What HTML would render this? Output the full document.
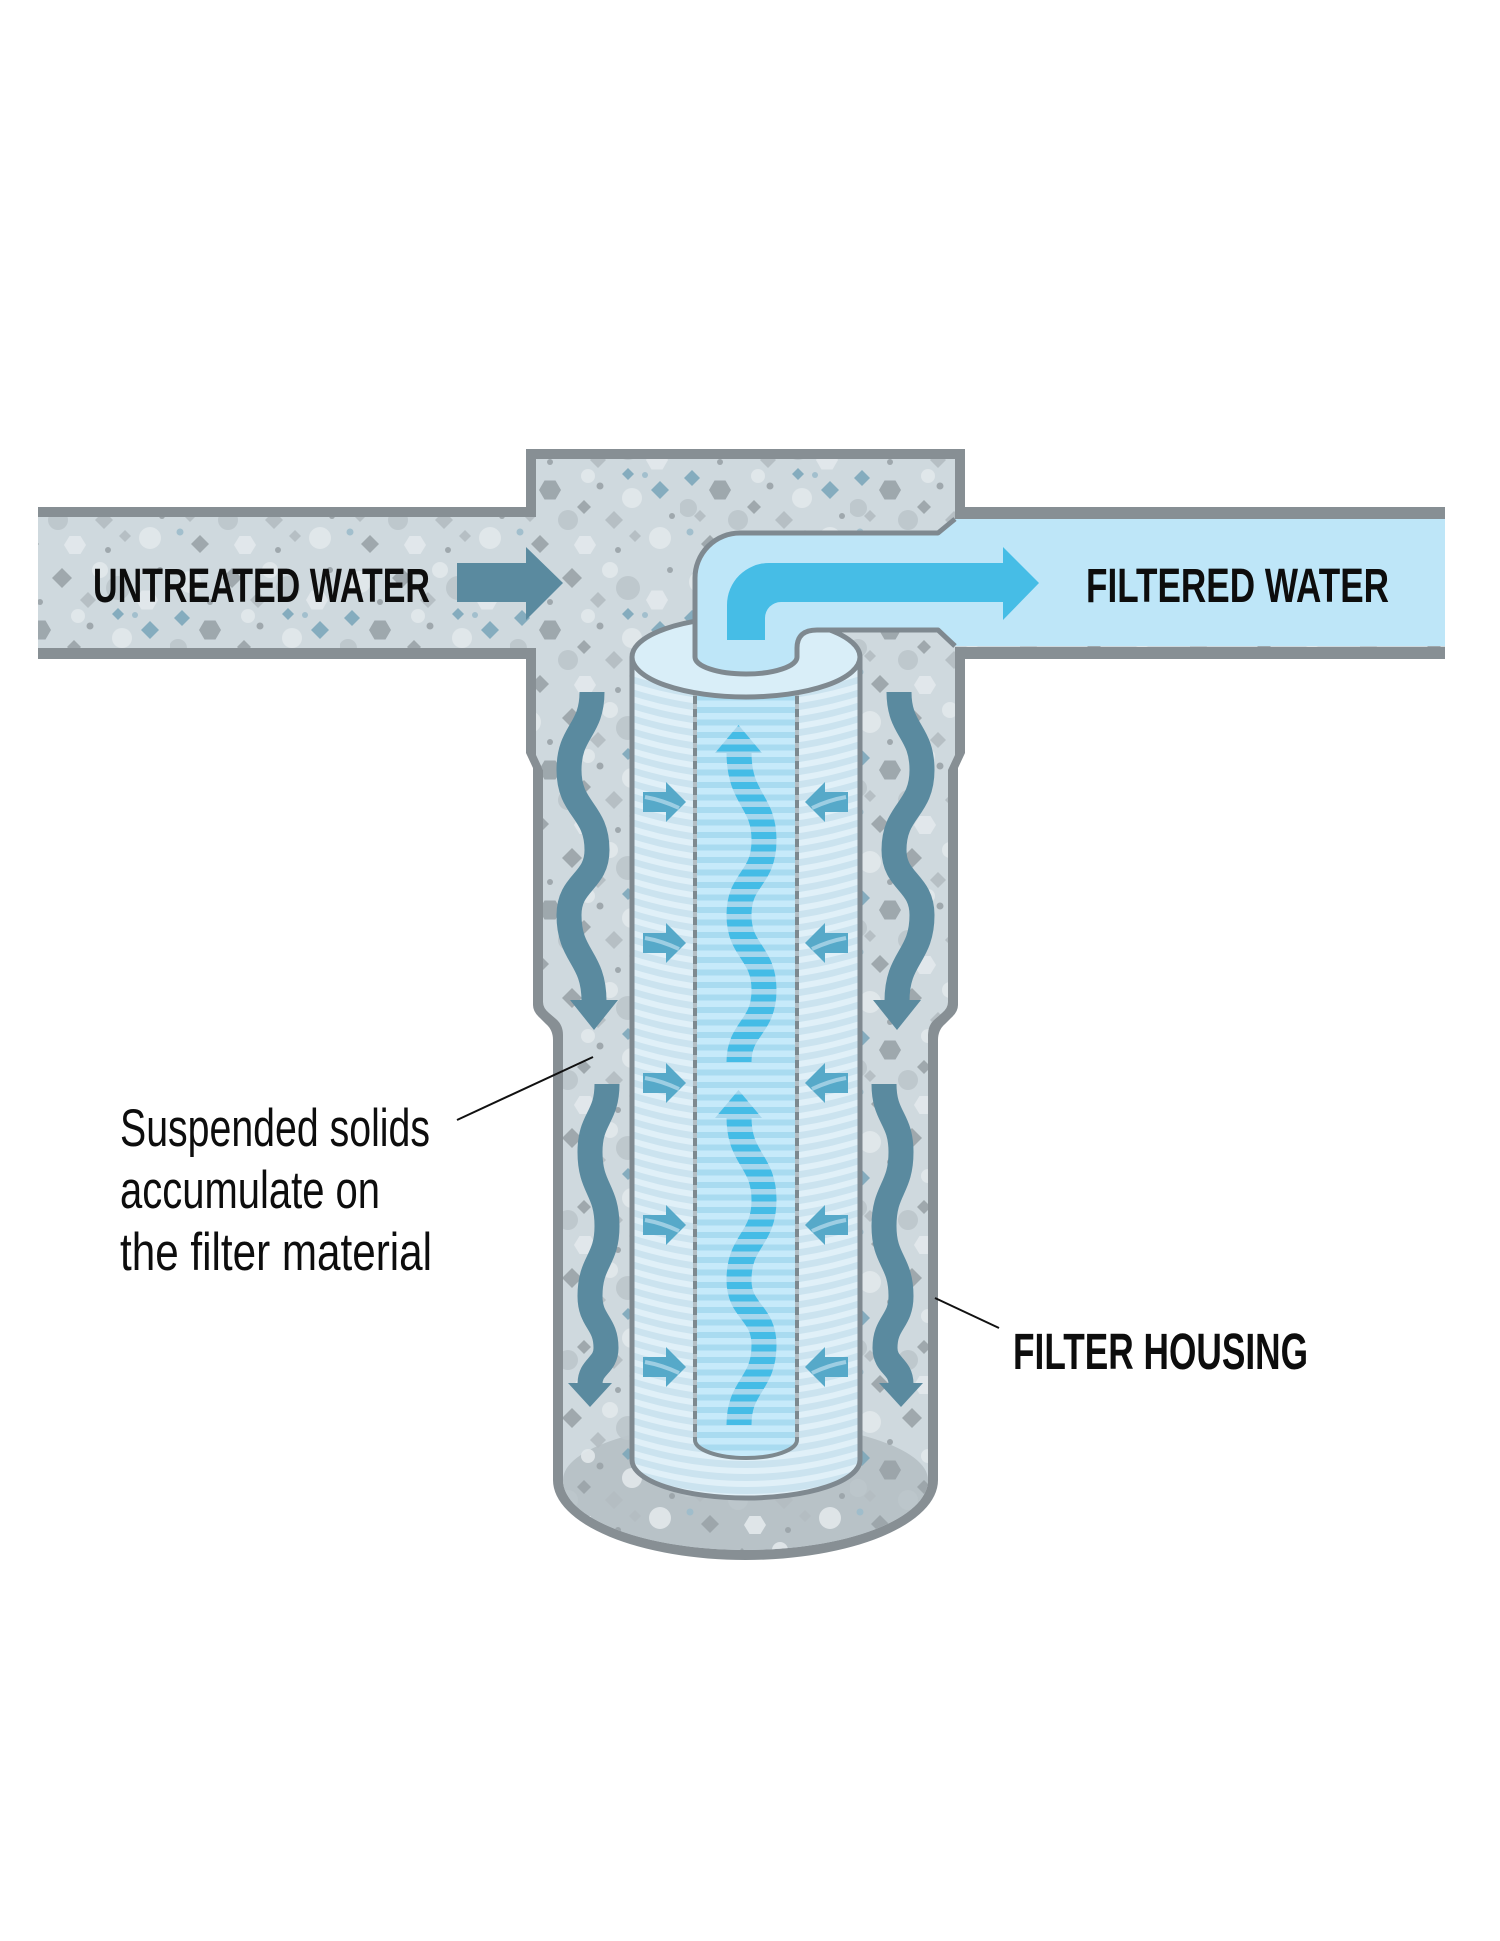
<!DOCTYPE html>
<html>
<head>
<meta charset="utf-8">
<style>
  html, body { margin: 0; padding: 0; background: #ffffff; }
  svg { display: block; }
  .lbl { font-family: "Liberation Sans", "DejaVu Sans", sans-serif; font-weight: bold; fill: #0d0d0d; }
  .ann { font-family: "Liberation Sans", "DejaVu Sans", sans-serif; font-weight: normal; fill: #0d0d0d; }
</style>
</head>
<body>
<svg width="1500" height="1941" viewBox="0 0 1500 1941" xmlns="http://www.w3.org/2000/svg">
  <defs>
    <!-- speckle texture -->
    <pattern id="speck" patternUnits="userSpaceOnUse" x="0" y="0" width="170" height="140">
      <circle cx="20" cy="22" r="11" fill="#e2e8eb"/>
      <circle cx="118" cy="28" r="12" fill="#bcc6cb"/>
      <polygon points="62,8 72,18 62,28 52,18" fill="#9aa3a8"/>
      <polygon points="150,61 159,70 150,79 141,70" fill="#7da7ba"/>
      <polygon points="51,70 45.5,79.5 34.5,79.5 29,70 34.5,60.5 45.5,60.5" fill="#99a2a7"/>
      <circle cx="90" cy="66" r="3.5" fill="#9aa3a8"/>
      <polygon points="104,91 113,100 104,109 95,100" fill="#b3bcc1"/>
      <circle cx="150" cy="118" r="11" fill="#e2e8eb"/>
      <polygon points="86,125 80.5,134 69.5,134 64,125 69.5,116 80.5,116" fill="#e3e9ec"/>
      <circle cx="10" cy="112" r="3.5" fill="#9dbccb"/>
      <polygon points="30,115 39,124 30,133 21,124" fill="#9aa3a8"/>
      <circle cx="160" cy="10" r="3" fill="#9aa3a8"/>
      <polygon points="88,32 96,40 88,48 80,40" fill="#b3bcc1"/>
      <circle cx="58" cy="100" r="10" fill="#bcc6cb"/>
      <circle cx="135" cy="55" r="3" fill="#9dbccb"/>
      <polygon points="158,40 152.5,49.5 141.5,49.5 136,40 141.5,30.5 152.5,30.5" fill="#e3e9ec"/>
      <polygon points="12,50 20,58 12,66 4,58" fill="#7da7ba"/>
      <circle cx="122" cy="78" r="10" fill="#e2e8eb"/>
      <circle cx="40" cy="42" r="3" fill="#9aa3a8"/>
      <circle cx="100" cy="10" r="8" fill="#e2e8eb"/>
      <polygon points="74,80 81,87 74,94 67,87" fill="#9aa3a8"/>
      <circle cx="8" cy="88" r="9" fill="#bcc6cb"/>
      <polygon points="125,110 131,116 125,122 119,116" fill="#b3bcc1"/>
      <circle cx="108" cy="130" r="3" fill="#9aa3a8"/>
      <polygon points="20,90 26,96 20,102 14,96" fill="#b3bcc1"/>
      <circle cx="162" cy="96" r="3" fill="#9aa3a8"/>
      <circle cx="78" cy="56" r="7" fill="#e2e8eb"/>
      <polygon points="118,48 124,54 118,60 112,54" fill="#7da7ba"/>
    </pattern>
    <!-- cartridge outer band stripes -->
    <pattern id="ring" patternUnits="userSpaceOnUse" x="632" y="660" width="228" height="13">
      <rect x="0" y="0" width="228" height="13" fill="#cbe3ef"/>
      <path d="M0 -26 Q114 10 228 -26 M0 -13 Q114 23 228 -13 M0 0 Q114 36 228 0 M0 13 Q114 49 228 13" stroke="#e0f0f8" stroke-width="6" fill="none"/>
    </pattern>
    <!-- core stripes -->
    <pattern id="core" patternUnits="userSpaceOnUse" x="0" y="657" width="20" height="12.5">
      <rect x="0" y="0" width="20" height="12.5" fill="#c6eafa"/>
      <rect x="0" y="0" width="20" height="6" fill="#a9dbf0"/>
    </pattern>
    <!-- core arrow stripes -->
    <pattern id="carrow" patternUnits="userSpaceOnUse" x="0" y="657" width="20" height="12.5">
      <rect x="0" y="0" width="20" height="12.5" fill="#a6d6ec"/>
      <rect x="0" y="0" width="20" height="7" fill="#45bce6"/>
    </pattern>
    <clipPath id="bodyClip">
      <path d="M632 657 V1460 A114 38 0 0 0 860 1460 V657 Z"/>
    </clipPath>
  </defs>

  <rect x="0" y="0" width="1500" height="1941" fill="#ffffff"/>

  <!-- housing outer wall -->
  <path d="M38 507 H526 V449 H965 V507 H1445 V659 H965 V753 L958 768 V1005 Q958 1012 951 1018 L945 1024 Q938 1030 938 1040 V1480 A192.5 80 0 0 1 553 1480 V1040 Q553 1030 546 1024 L540 1018 Q533 1012 533 1005 V768 L526 753 V659 H38 Z" fill="#878f94"/>
  <!-- housing inner -->
  <path d="M38 517 H536 V459 H955 V519 H1445 V647 H955 V755 L948 770 V1002 Q948 1008 942 1013 L935 1019 Q928 1025 928 1035 V1480 A182.5 70 0 0 1 563 1480 V1035 Q563 1025 556 1019 L549 1013 Q543 1008 543 1002 V770 L536 755 V648 H38 Z" fill="#cfd9de"/>
  <!-- floor -->
  <path d="M563 1480 A182.5 58 0 0 1 928 1480 A182.5 70 0 0 1 563 1480 Z" fill="#b8c2c7"/>
  <path d="M38 517 H536 V459 H955 V519 H1445 V647 H955 V755 L948 770 V1002 Q948 1008 942 1013 L935 1019 Q928 1025 928 1035 V1480 A182.5 70 0 0 1 563 1480 V1035 Q563 1025 556 1019 L549 1013 Q543 1008 543 1002 V770 L536 755 V648 H38 Z" fill="url(#speck)" opacity="0.9"/>

  <!-- untreated arrow -->
  <rect x="457" y="563" width="70" height="39" fill="#5a8a9f"/>
  <polygon points="526,547 526,620 563,583" fill="#5a8a9f"/>

  <!-- housing wavy arrows -->
  <g fill="none" stroke="#5a8a9f" stroke-width="25" stroke-linecap="butt">
    <path d="M592 692 C592 731 569 731 569 770 C569 810 597 810 597 850 C597 882 569 882 569 915 C569 957 594 957 594 1001"/>
    <path d="M899 692 C899 731 922 731 922 770 C922 810 894 810 894 850 C894 882 922 882 922 915 C922 957 897 957 897 1001"/>
    <path d="M607 1084 C607 1118 590 1118 590 1152 C590 1189 607 1189 607 1226 C607 1261 590 1261 590 1296 C590 1322 606 1322 606 1348 C606 1366 590 1366 590 1384"/>
    <path d="M884 1084 C884 1118 901 1118 901 1152 C901 1189 884 1189 884 1226 C884 1261 901 1261 901 1296 C901 1322 885 1322 885 1348 C885 1366 901 1366 901 1384"/>
  </g>
  <g fill="#5a8a9f">
    <polygon points="570,1000 618,1000 594,1030"/>
    <polygon points="873,1000 921,1000 897,1030"/>
    <polygon points="568,1383 612,1383 590,1407"/>
    <polygon points="879,1383 923,1383 901,1407"/>
  </g>

  <!-- cartridge body -->
  <path d="M632 657 V1460 A114 38 0 0 0 860 1460 V657 Z" fill="url(#ring)"/>
  <g clip-path="url(#bodyClip)">
    <path d="M695 657 V1440 A51 18 0 0 0 797 1440 V657 Z" fill="url(#core)"/>
  </g>
  <!-- core dashed walls -->
  <g fill="none" stroke-width="4">
    <line x1="695" y1="657" x2="695" y2="1440" stroke="#b3bec4"/>
    <line x1="797" y1="657" x2="797" y2="1440" stroke="#b3bec4"/>
    <line x1="695" y1="657" x2="695" y2="1440" stroke="#7d898f" stroke-dasharray="8 5"/>
    <line x1="797" y1="657" x2="797" y2="1440" stroke="#7d898f" stroke-dasharray="8 5"/>
    <path d="M695 1440 A51 18 0 0 0 797 1440" stroke="#7d898f"/>
  </g>

  <!-- core wavy arrows -->
  <g fill="none" stroke="url(#carrow)" stroke-width="25">
    <path d="M739 752 C739 800 764 800 764 840 C764 880 739 878 739 915 C739 952 764 952 764 990 C764 1028 739 1028 739 1062"/>
    <path d="M739 1117 C739 1160 764 1160 764 1200 C764 1240 739 1240 739 1280 C739 1312 764 1312 764 1345 C764 1385 739 1385 739 1425"/>
  </g>
  <polygon points="715,753 762,753 738.5,725" fill="url(#carrow)"/>
  <polygon points="715,1118 762,1118 738.5,1090" fill="url(#carrow)"/>

  <!-- small inward arrows -->
  <g fill="#56a9c9">
    <path d="M643 792 H666 V782 L686 802 L666 822 V812 H643 Z"/>
    <path d="M643 933 H666 V923 L686 943 L666 963 V953 H643 Z"/>
    <path d="M643 1073 H666 V1063 L686 1083 L666 1103 V1093 H643 Z"/>
    <path d="M643 1215 H666 V1205 L686 1225 L666 1245 V1235 H643 Z"/>
    <path d="M643 1357 H666 V1347 L686 1367 L666 1387 V1377 H643 Z"/>
    <path d="M848 792 H825 V782 L805 802 L825 822 V812 H848 Z"/>
    <path d="M848 933 H825 V923 L805 943 L825 963 V953 H848 Z"/>
    <path d="M848 1073 H825 V1063 L805 1083 L825 1103 V1093 H848 Z"/>
    <path d="M848 1215 H825 V1205 L805 1225 L825 1245 V1235 H848 Z"/>
    <path d="M848 1357 H825 V1347 L805 1367 L825 1387 V1377 H848 Z"/>
  </g>
  <g fill="none" stroke="#a9d5e8" stroke-width="4" opacity="0.85">
    <path d="M645 797 Q662 800 679 808"/>
    <path d="M645 938 Q662 941 679 949"/>
    <path d="M645 1078 Q662 1081 679 1089"/>
    <path d="M645 1220 Q662 1223 679 1231"/>
    <path d="M645 1362 Q662 1365 679 1373"/>
    <path d="M846 797 Q829 800 812 808"/>
    <path d="M846 938 Q829 941 812 949"/>
    <path d="M846 1078 Q829 1081 812 1089"/>
    <path d="M846 1220 Q829 1223 812 1231"/>
    <path d="M846 1362 Q829 1365 812 1373"/>
  </g>

  <!-- cartridge outline -->
  <path d="M632 657 V1460 A114 38 0 0 0 860 1460 V657" fill="none" stroke="#7f8990" stroke-width="5"/>
  <!-- cartridge top -->
  <ellipse cx="746" cy="657" rx="114" ry="40" fill="#d9eef8" stroke="#7f8990" stroke-width="5"/>

  <!-- outlet channel -->
  <path d="M1445 519 H955 L938 533 H740 A45 45 0 0 0 695 578 V657 A51 17 0 0 0 797 657 V648 Q797 630 817 630 H938 L955 646 H1445 Z" fill="#bee6f8"/>
  <path d="M955 519 L938 533 H740 A45 45 0 0 0 695 578 V657 A51 17 0 0 0 797 657 V648 Q797 630 817 630 H938 L955 646" fill="none" stroke="#7f8990" stroke-width="5" stroke-linejoin="round"/>

  <!-- filtered arrow -->
  <path d="M727 640 V605 A42 42 0 0 1 769 563 H1003 V547 L1039 583 L1003 620 V602 H781 A16 16 0 0 0 765 618 V640 Z" fill="#46bde6"/>

  <!-- labels -->
  <text class="lbl" x="93" y="602" font-size="48" textLength="337" lengthAdjust="spacingAndGlyphs">UNTREATED WATER</text>
  <text class="lbl" x="1086" y="602" font-size="48" textLength="303" lengthAdjust="spacingAndGlyphs">FILTERED WATER</text>
  <text class="lbl" x="1013" y="1369" font-size="51" textLength="295" lengthAdjust="spacingAndGlyphs">FILTER HOUSING</text>

  <text class="ann" x="120" y="1146" font-size="53" textLength="310" lengthAdjust="spacingAndGlyphs">Suspended solids</text>
  <text class="ann" x="120" y="1208" font-size="53" textLength="260" lengthAdjust="spacingAndGlyphs">accumulate on</text>
  <text class="ann" x="120" y="1270" font-size="53" textLength="312" lengthAdjust="spacingAndGlyphs">the filter material</text>

  <!-- leader lines -->
  <line x1="457" y1="1120" x2="593" y2="1057" stroke="#111111" stroke-width="2"/>
  <line x1="935" y1="1298" x2="999" y2="1328" stroke="#111111" stroke-width="2"/>
</svg>
</body>
</html>
